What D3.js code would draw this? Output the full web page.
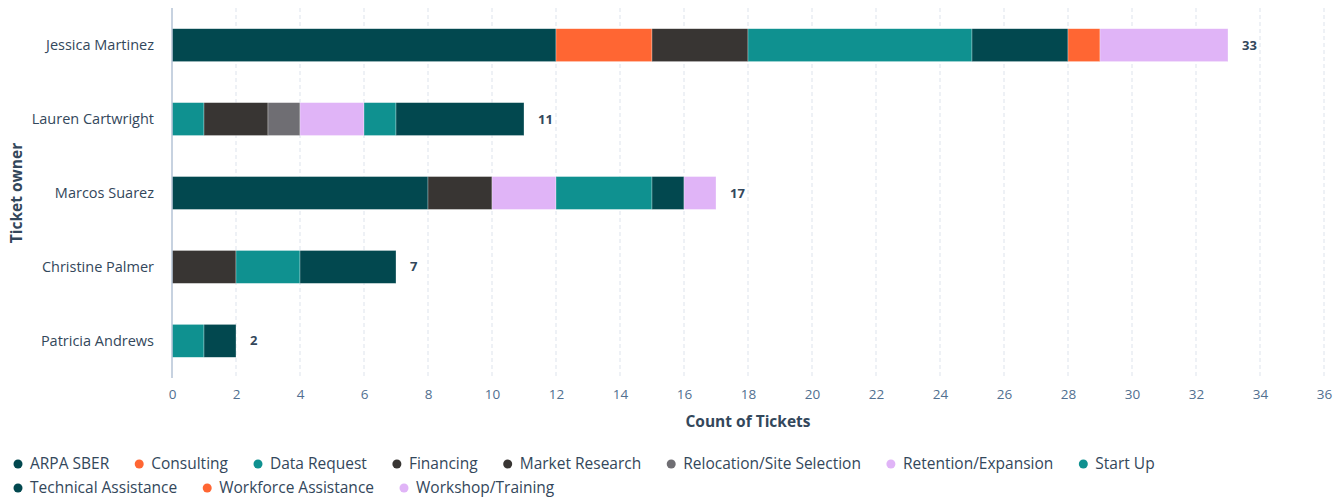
<!DOCTYPE html>
<html>
<head>
<meta charset="utf-8">
<script src="https://cdn.jsdelivr.net/npm/d3@7"></script>
<style>
  body { margin: 0; background: #fff; }
  text { font-family: "Open Sans", sans-serif; }
</style>
</head>
<body>
<svg class="chart"></svg>
<script>
// ticket owners (y categories)
let owners = [ 'Jessica Martinez', 'Lauren Cartwright', 'Marcos Suarez', 'Christine Palmer', 'Patricia Andrews' ];

// ticket types, in stack / legend order
let types = [ 'ARPA SBER', 'Consulting', 'Data Request', 'Financing', 'Market Research',
  'Relocation/Site Selection', 'Retention/Expansion', 'Start Up', 'Technical Assistance',
  'Workforce Assistance', 'Workshop/Training' ];

// counts per owner, one array per type
let arpaSber      = [ 12, 0, 8, 0, 0 ];
let consulting    = [ 3, 0, 0, 0, 0 ];
let dataRequest   = [ 0, 1, 0, 0, 1 ];
let financing     = [ 3, 2, 2, 2, 0 ];
let marketResearch = [ 0, 0, 0, 0, 0 ];
let relocation    = [ 0, 1, 0, 0, 0 ];
let retention     = [ 0, 2, 2, 0, 0 ];
let startUp       = [ 7, 1, 3, 2, 0 ];
let techAssist    = [ 3, 4, 1, 3, 1 ];
let workforce     = [ 1, 0, 0, 0, 0 ];
let workshop      = [ 4, 0, 1, 0, 0 ];

let xTicks = [ 0, 2, 4, 6, 8, 10, 12, 14, 16, 18, 20, 22, 24, 26, 28, 30, 32, 34, 36 ];

let seriesValues = [ arpaSber, consulting, dataRequest, financing, marketResearch,
  relocation, retention, startUp, techAssist, workforce, workshop ];

let colors = [ '#02484f', '#ff6633', '#0f9190', '#383533', '#383533',
  '#6f6e73', '#e0b4f7', '#0f9190', '#02484f', '#ff6633', '#e0b4f7' ];

let W = 1335, H = 501;
let margin = { top: 8, right: 11, bottom: 123, left: 172 };
let width = W - margin.left - margin.right;
let height = H - margin.top - margin.bottom;

let rows = owners.map( (o, i) => {
  let r = { owner: o };
  types.forEach( (t, j) => r[t] = seriesValues[j][i] );
  return r;
});

let stacked = d3.stack().keys( types )( rows );

let x = d3.scaleLinear()
    .domain( [0, 36] )
    .range( [0, width] );

let y = d3.scaleBand()
    .domain( owners )
    .range( [0, height] )
    .paddingInner( .555 )
    .paddingOuter( .28 );

let color = d3.scaleOrdinal()
    .domain( types )
    .range( colors );

let svg = d3.select( '.chart' )
    .attr( 'width', W )
    .attr( 'height', H );

let chart = svg.append( 'g' )
    .attr( 'transform', 'translate(' + margin.left + ',' + margin.top + ')' );

// dashed grid
chart.append( 'g' ).selectAll( 'line' )
    .data( xTicks.filter( d => d > 0 ) )
  .enter().append( 'line' )
    .attr( 'x1', d => x(d) ).attr( 'x2', d => x(d) )
    .attr( 'y1', 0 ).attr( 'y2', height )
    .attr( 'stroke', '#dde3ec' )
    .attr( 'stroke-dasharray', '4,3' );

// bars
chart.append( 'g' ).selectAll( 'g' )
    .data( stacked )
  .enter().append( 'g' )
    .attr( 'fill', d => color( d.key ) )
  .selectAll( 'rect' )
    .data( d => d.filter( s => s[1] > s[0] ) )
  .enter().append( 'rect' )
    .attr( 'x', d => x( d[0] ) )
    .attr( 'y', d => y( d.data.owner ) )
    .attr( 'width', d => x( d[1] ) - x( d[0] ) )
    .attr( 'height', y.bandwidth() )
    .attr( 'stroke', '#ffffff' )
    .attr( 'stroke-opacity', .5 )
    .attr( 'stroke-width', .6 );

// totals
chart.append( 'g' ).selectAll( 'text' )
    .data( rows )
  .enter().append( 'text' )
    .attr( 'x', d => x( d3.sum( types, t => d[t] ) ) + 14 )
    .attr( 'y', d => y( d.owner ) + y.bandwidth() / 2 )
    .attr( 'dy', '0.35em' )
    .attr( 'font-size', 13 )
    .attr( 'font-weight', 700 )
    .attr( 'fill', '#33475b' )
    .text( d => d3.sum( types, t => d[t] ) );

// y axis line
chart.append( 'line' )
    .attr( 'x1', 0 ).attr( 'x2', 0 )
    .attr( 'y1', 0 ).attr( 'y2', height )
    .attr( 'stroke', '#b4c3d6' )
    .attr( 'stroke-width', 1.5 );

// y labels
chart.append( 'g' ).selectAll( 'text' )
    .data( owners )
  .enter().append( 'text' )
    .attr( 'x', -18 )
    .attr( 'y', d => y(d) + y.bandwidth() / 2 )
    .attr( 'dy', '0.35em' )
    .attr( 'text-anchor', 'end' )
    .attr( 'font-size', 14.5 )
    .attr( 'fill', '#33475b' )
    .text( d => d );

// x tick labels
let xAxis = d3.axisBottom( x ).tickValues( xTicks ).tickSize( 0 ).tickPadding( 11 );
let xg = chart.append( 'g' )
    .attr( 'transform', 'translate(0,' + height + ')' )
    .call( xAxis );
xg.select( '.domain' ).remove();
xg.selectAll( 'text' )
    .attr( 'font-size', 13.5 )
    .attr( 'font-family', '"Open Sans", sans-serif' )
    .attr( 'fill', '#516f90' );

// axis titles
chart.append( 'text' )
    .attr( 'x', width / 2 )
    .attr( 'y', height + 49 )
    .attr( 'text-anchor', 'middle' )
    .attr( 'font-size', 15.5 )
    .attr( 'font-weight', 700 )
    .attr( 'fill', '#33475b' )
    .text( 'Count of Tickets' );

svg.append( 'text' )
    .attr( 'transform', 'translate(22,' + ( margin.top + height / 2 ) + ') rotate(-90)' )
    .attr( 'text-anchor', 'middle' )
    .attr( 'font-size', 15.5 )
    .attr( 'font-weight', 700 )
    .attr( 'fill', '#33475b' )
    .text( 'Ticket owner' );

// legend, flowing into rows
let legend = svg.append( 'g' );
let lx = 18, ly = 464;
types.forEach( (t, i) => {
  let item = legend.append( 'g' );
  item.append( 'circle' )
      .attr( 'r', 4.5 )
      .attr( 'fill', color( t ) );
  let label = item.append( 'text' )
      .attr( 'x', 12 )
      .attr( 'dy', '0.35em' )
      .attr( 'font-size', 15.5 )
      .attr( 'fill', '#33475b' )
      .text( t );
  let w = 12 + label.node().getComputedTextLength();
  if ( lx + w > W - 10 ) { lx = 18; ly += 24; }
  item.attr( 'transform', 'translate(' + lx + ',' + ly + ')' );
  lx += w + 30;
});
</script>
</body>
</html>
